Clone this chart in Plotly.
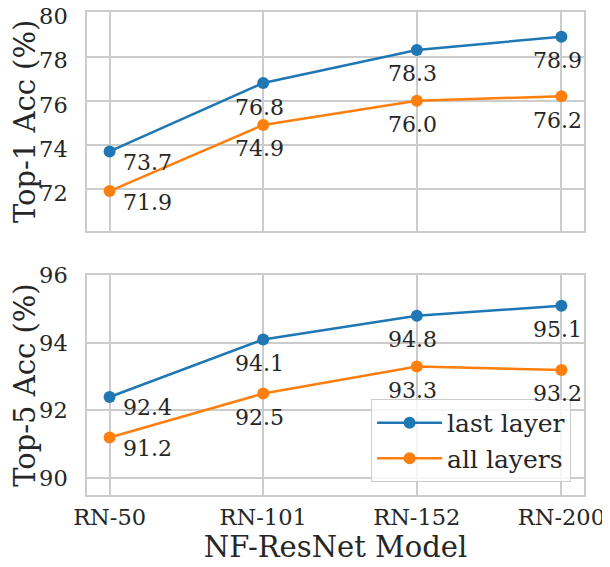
import plotly.graph_objects as go

models = ["RN-50", "RN-101", "RN-152", "RN-200"]
depth = [50, 101, 152, 200]
top1_last = [73.7, 76.8, 78.3, 78.9]
top1_all = [71.9, 74.9, 76.0, 76.2]
top5_last = [92.4, 94.1, 94.8, 95.1]
top5_all = [91.2, 92.5, 93.3, 93.2]

BLUE = "#1f77b4"
ORANGE = "#ff7f0e"
FONT = "DejaVu Serif"
TXT = "#262626"
GRID = "#cccccc"

fig = go.Figure()

def add_series(y, color, name, xa, ya, show):
    fig.add_trace(go.Scatter(
        x=depth, y=y, mode="lines+markers", name=name, legendgroup=name,
        line=dict(color=color, width=2.5),
        marker=dict(color=color, size=12),
        xaxis=xa, yaxis=ya, showlegend=show))

add_series(top1_last, BLUE, "last layer", "x", "y", False)
add_series(top1_all, ORANGE, "all layers", "x", "y", False)
add_series(top5_last, BLUE, "last layer", "x2", "y2", True)
add_series(top5_all, ORANGE, "all layers", "x2", "y2", True)

annotations = []
for xr, yr, series in [("x", "y", top1_last), ("x", "y", top1_all),
                       ("x2", "y2", top5_last), ("x2", "y2", top5_all)]:
    for i, (xv, yv) in enumerate(zip(depth, series)):
        if i == 0:
            dx, dy = 38, -11
        else:
            dx, dy = -4, -24
        annotations.append(dict(
            x=xv, y=yv, xref=xr, yref=yr, text=f"{yv:.1f}",
            showarrow=False, xshift=dx, yshift=dy,
            font=dict(family=FONT, size=22, color=TXT)))

axis_common = dict(
    showgrid=True, gridcolor=GRID, gridwidth=1.5,
    showline=True, linecolor=GRID, linewidth=1.5, mirror=True,
    zeroline=False, ticks="", automargin=False, ticklabeloverflow="allow",
    tickfont=dict(family=FONT, size=22.5, color=TXT),
)

fig.update_layout(
    width=602, height=559,
    margin=dict(l=79, r=26, t=4, b=72),
    plot_bgcolor="white", paper_bgcolor="white",
    font=dict(family=FONT, color=TXT),
    xaxis=dict(domain=[0, 1], range=[42.5, 207.5], tickvals=depth,
               ticktext=models, showticklabels=False, anchor="y",
               matches="x2", **axis_common),
    xaxis2=dict(domain=[0, 1], range=[42.5, 207.5], tickvals=depth,
                ticktext=models, anchor="y2", ticklabelstandoff=1,
                title=dict(text="NF-ResNet Model", standoff=8,
                           font=dict(family=FONT, size=29, color=TXT)),
                **axis_common),
    yaxis=dict(domain=[0.547, 1], range=[70.1, 80.02], tickvals=[72, 74, 76, 78, 80],
               anchor="x", ticklabelstandoff=13, ticklabelshift=4,
               title=dict(text="Top-1 Acc (%)", standoff=14,
                          font=dict(family=FONT, size=29, color=TXT)),
               **axis_common),
    yaxis2=dict(domain=[0, 0.455], range=[89.5, 96.0], tickvals=[90, 92, 94, 96],
                anchor="x2", ticklabelstandoff=13,
                title=dict(text="Top-5 Acc (%)", standoff=14,
                           font=dict(family=FONT, size=29, color=TXT)),
                **axis_common),
    legend=dict(x=0.974, y=0.027, xanchor="right", yanchor="bottom",
                bgcolor="rgba(255,255,255,0.8)", bordercolor=GRID, borderwidth=1,
                font=dict(family=FONT, size=25, color=TXT),
                itemwidth=65, tracegroupgap=0),
    annotations=annotations,
)

fig.write_html("out.html")
